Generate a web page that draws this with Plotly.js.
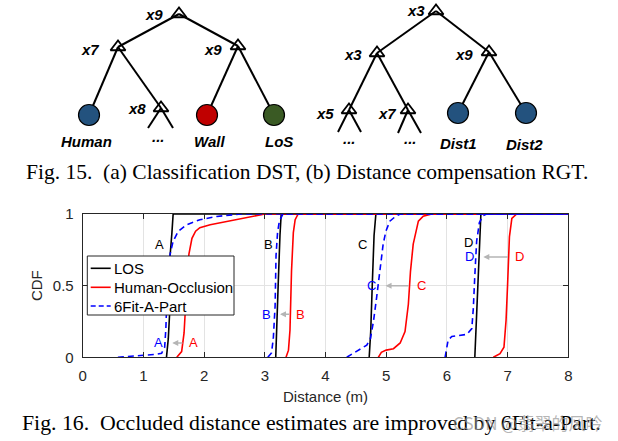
<!DOCTYPE html>
<html>
<head>
<meta charset="utf-8">
<script src="https://cdn.plot.ly/plotly-3.0.1.min.js"></script>
<style>html,body{margin:0;padding:0;background:#fff;}#chart{width:618px;height:441px;}</style>
</head>
<body>
<div id="chart"></div>
<script>
// ---------- CDF data (distance in m, CDF level) ----------
const losA_x = [1.38, 1.41, 1.43, 1.44, 1.47, 1.49];
const losA_y = [0, 0.13, 0.29, 0.71, 0.87, 1];
const losB_x = [3.18, 3.20, 3.22, 3.25, 3.27];
const losB_y = [0, 0.2, 0.5, 0.85, 1];
const losC_x = [4.72, 4.745, 4.77, 4.80, 4.83];
const losC_y = [0, 0.18, 0.5, 0.85, 1];
const losD_x = [6.46, 6.49, 6.51, 6.54, 6.56];
const losD_y = [0, 0.25, 0.5, 0.8, 1];

const humA_x = [1.55, 1.63, 1.67, 1.69, 1.72, 1.75, 1.80, 1.86, 1.93, 2.10, 2.37, 2.65, 2.90, 3.00];
const humA_y = [0, 0.04, 0.17, 0.35, 0.55, 0.72, 0.83, 0.88, 0.905, 0.925, 0.947, 0.97, 0.99, 1];
const humB_x = [3.35, 3.39, 3.415, 3.44, 3.47, 3.50, 3.55];
const humB_y = [0, 0.05, 0.19, 0.6, 0.87, 0.96, 1];
const humC_x = [4.87, 4.92, 5.00, 5.12, 5.23, 5.31, 5.365, 5.40, 5.445, 5.49, 5.53, 5.61, 5.75];
const humC_y = [0, 0.035, 0.05, 0.06, 0.1, 0.18, 0.37, 0.6, 0.79, 0.88, 0.95, 0.985, 1];
const humD_x = [6.765, 6.875, 6.94, 6.975, 7.00, 7.03, 7.07, 7.15];
const humD_y = [0, 0.025, 0.07, 0.26, 0.51, 0.84, 0.97, 1];

const fitA_x = [0.58, 0.8, 1.0, 1.2, 1.3, 1.35, 1.37, 1.39, 1.42, 1.44, 1.49, 1.575, 1.71, 1.93, 2.21, 2.6];
const fitA_y = [0, 0.005, 0.014, 0.02, 0.028, 0.07, 0.2, 0.45, 0.62, 0.72, 0.81, 0.88, 0.925, 0.96, 0.983, 1];
const fitB_x = [3.05, 3.11, 3.14, 3.17, 3.185, 3.21, 3.24, 3.30];
const fitB_y = [0, 0.03, 0.13, 0.36, 0.71, 0.87, 0.95, 1];
const fitC_x = [4.35, 4.51, 4.68, 4.74, 4.79, 4.84, 4.885, 4.92, 4.95, 4.995, 5.06, 5.145, 5.23];
const fitC_y = [0, 0.04, 0.085, 0.13, 0.25, 0.41, 0.55, 0.67, 0.79, 0.88, 0.95, 0.98, 1];
const fitD_x = [5.97, 6.02, 6.08, 6.16, 6.33, 6.41, 6.435, 6.46, 6.49, 6.535, 6.60, 6.655];
const fitD_y = [0, 0.12, 0.145, 0.15, 0.16, 0.2, 0.34, 0.57, 0.81, 0.94, 0.99, 1];

const seriesNames = ['LOS', 'Human-Occlusion', '6Fit-A-Part'];
const xTicks = [0, 1, 2, 3, 4, 5, 6, 7, 8];
const yTicks = [0, 0.5, 1];
const yTickText = ['0', '0.5', '1'];
const xMax = 8;

// case labels
const caseLetters = ['A', 'B', 'C', 'D'];
const labelLOS_x = [1.27, 3.06, 4.61, 6.35];
const labelLOS_y = [0.79, 0.79, 0.79, 0.80];
const labelFit_x = [1.245, 3.02, 4.75, 6.38];
const labelFit_y = [0.10, 0.30, 0.50, 0.70];
const labelHum_x = [1.82, 3.59, 5.585, 7.19];
const labelHum_y = [0.10, 0.30, 0.50, 0.70];
const arrowFrom_x = [1.67, 3.43, 5.39, 7.03];
const arrowTo_x = [1.475, 3.25, 4.99, 6.60];

// ---------- tree diagrams (pixel layout of the figure) ----------
const treeA_nodes = {
  root: [179, 14], L: [118, 47], R: [238, 46], x8: [161, 108],
  Human: [89, 115], Wall: [207, 115], LoS: [274, 115],
  x8a: [148, 128], x8b: [173, 128]
};
const treeA_edges = [['root','L'],['root','R'],['L','Human'],['L','x8'],['R','Wall'],['R','LoS'],['x8','x8a'],['x8','x8b']];
const treeB_nodes = {
  root: [436, 11], L: [377, 53], R: [489, 52], x5: [349, 110], x7: [408, 110],
  Dist1: [458, 113], Dist2: [526, 113],
  x5a: [338, 132], x5b: [361, 132], x7a: [398, 133], x7b: [421, 133]
};
const treeB_edges = [['root','L'],['root','R'],['L','x5'],['L','x7'],['R','Dist1'],['R','Dist2'],['x5','x5a'],['x5','x5b'],['x7','x7a'],['x7','x7b']];
const splitNodes = [treeA_nodes.root, treeA_nodes.L, treeA_nodes.R, treeA_nodes.x8,
                    treeB_nodes.root, treeB_nodes.L, treeB_nodes.R, treeB_nodes.x5, treeB_nodes.x7];
const leafNodes = [treeA_nodes.Human, treeA_nodes.Wall, treeA_nodes.LoS, treeB_nodes.Dist1, treeB_nodes.Dist2];
const leafColors = ['#23527e', '#c00000', '#3a5a24', '#23527e', '#23527e'];
const treeLabels = [
  ['x9', 154, 14], ['x7', 90, 49], ['x9', 213, 49], ['x8', 137, 108],
  ['Human', 86, 141], ['...', 158, 136], ['Wall', 209, 141], ['LoS', 279, 141],
  ['x3', 416, 10], ['x3', 353, 54], ['x9', 464, 54], ['x5', 325, 113], ['x7', 387, 113],
  ['...', 349, 138], ['...', 410, 138], ['Dist1', 458, 143], ['Dist2', 524, 144]
];

// ---------- build traces ----------
const traces = [];
const colors = ['#000000', '#ff0000', '#0000ff'];
const dashes = ['solid', 'solid', '6px,4px'];
const groups = [
  [[losA_x, losA_y], [losB_x, losB_y], [losC_x, losC_y], [losD_x, losD_y]],
  [[humA_x, humA_y], [humB_x, humB_y], [humC_x, humC_y], [humD_x, humD_y]],
  [[fitA_x, fitA_y], [fitB_x, fitB_y], [fitC_x, fitC_y], [fitD_x, fitD_y]]
];
groups.forEach((g, si) => {
  g.forEach((c, ci) => {
    traces.push({
      type: 'scatter', mode: 'lines', xaxis: 'x', yaxis: 'y',
      x: c[0].concat([xMax]), y: c[1].concat([1]),
      name: seriesNames[si], legendgroup: seriesNames[si], showlegend: false,
      line: {color: colors[si], width: 1.6, dash: dashes[si]},
      hoverinfo: 'skip'
    });
  });
});

function edgeXY(nodes, edges) {
  const ex = [], ey = [];
  edges.forEach(e => { ex.push(nodes[e[0]][0], nodes[e[1]][0], null); ey.push(nodes[e[0]][1], nodes[e[1]][1], null); });
  return [ex, ey];
}
[[treeA_nodes, treeA_edges], [treeB_nodes, treeB_edges]].forEach(t => {
  const e = edgeXY(t[0], t[1]);
  traces.push({type: 'scatter', mode: 'lines', xaxis: 'x2', yaxis: 'y2', x: e[0], y: e[1],
    line: {color: '#000', width: 2}, showlegend: false, hoverinfo: 'skip'});
});
traces.push({type: 'scatter', mode: 'markers', xaxis: 'x2', yaxis: 'y2',
  x: splitNodes.map(n => n[0]), y: splitNodes.map(n => n[1]),
  marker: {symbol: 'triangle-up-open', size: 13, color: '#000', line: {width: 1.8, color: '#000'}},
  showlegend: false, hoverinfo: 'skip'});
traces.push({type: 'scatter', mode: 'markers', xaxis: 'x2', yaxis: 'y2',
  x: leafNodes.map(n => n[0]), y: leafNodes.map(n => n[1]),
  marker: {symbol: 'circle', size: 21, color: leafColors, line: {width: 1.2, color: '#000'}},
  showlegend: false, hoverinfo: 'skip'});

// ---------- annotations ----------
const annotations = [];
const shapes = [];
const letterFont = {family: 'Liberation Sans, Arial, sans-serif', size: 13};
caseLetters.forEach((L, i) => {
  annotations.push({xref: 'x', yref: 'y', x: labelLOS_x[i], y: labelLOS_y[i], text: L, showarrow: false, font: Object.assign({color: '#000'}, letterFont)});
  annotations.push({xref: 'x', yref: 'y', x: labelFit_x[i], y: labelFit_y[i], text: L, showarrow: false, font: Object.assign({color: '#0000ff'}, letterFont)});
  annotations.push({xref: 'x', yref: 'y', x: labelHum_x[i], y: labelHum_y[i], text: L, showarrow: false, font: Object.assign({color: '#ff0000'}, letterFont)});
  annotations.push({xref: 'x', yref: 'y', axref: 'x', ayref: 'y', x: arrowTo_x[i], y: labelHum_y[i],
    ax: arrowFrom_x[i], ay: labelHum_y[i], text: '', showarrow: true,
    arrowcolor: '#b5b5b5', arrowwidth: 1.5, arrowhead: 2, arrowsize: 0.8, standoff: 0, startstandoff: 0});
});
treeLabels.forEach(t => {
  annotations.push({xref: 'x2', yref: 'y2', x: t[1], y: t[2], text: '<b><i>' + t[0] + '</i></b>', showarrow: false,
    font: {family: 'Liberation Sans, Arial, sans-serif', size: 15, color: '#000'}});
});

// legend box (MATLAB style, compact rows)
const W = 618, H = 441;
const px = v => v / W, py = v => 1 - v / H;
shapes.push({type: 'rect', xref: 'paper', yref: 'paper', x0: px(87.3), x1: px(234), y0: py(315), y1: py(256),
  fillcolor: '#fff', line: {color: '#262626', width: 1}, layer: 'above'});
const legendRowsY = [268.3, 287.3, 306];
seriesNames.forEach((n, i) => {
  shapes.push({type: 'line', xref: 'paper', yref: 'paper', x0: px(90.7), x1: px(110.7), y0: py(legendRowsY[i]), y1: py(legendRowsY[i]),
    line: {color: colors[i], width: 1.6, dash: i === 2 ? '5px,3px' : 'solid'}, layer: 'above'});
  annotations.push({xref: 'paper', yref: 'paper', x: px(112), y: py(legendRowsY[i]), xanchor: 'left', yanchor: 'middle',
    text: n, showarrow: false, font: {family: 'Liberation Sans, Arial, sans-serif', size: 15, color: '#000'}});
});

annotations.push({xref: 'paper', yref: 'paper', x: 307 / W, y: py(172), xanchor: 'center', yanchor: 'middle',
  text: 'Fig. 15.&nbsp;&nbsp;(a) Classification DST, (b) Distance compensation RGT.', showarrow: false,
  font: {family: 'Liberation Serif, Times New Roman, serif', size: 21.5, color: '#000'}});
annotations.push({xref: 'paper', yref: 'paper', x: 20 / W, y: py(423), xanchor: 'left', yanchor: 'middle',
  text: 'Fig. 16.&nbsp;&nbsp;Occluded distance estimates are improved by 6Fit-a-Part.', showarrow: false,
  font: {family: 'Liberation Serif, Times New Roman, serif', size: 21.8, color: '#000'}});
annotations.push({xref: 'paper', yref: 'paper', x: 604 / W, y: py(422), xanchor: 'right', yanchor: 'middle',
  text: 'CSDN @翡翠的风吟', showarrow: false,
  font: {family: 'Noto Sans CJK SC, sans-serif', size: 17, color: 'rgba(150,150,150,0.7)'}});

const axisFont = {family: 'Liberation Sans, Arial, sans-serif', size: 15, color: '#262626'};
const layout = {
  width: W, height: H,
  margin: {l: 0, r: 0, t: 0, b: 0},
  paper_bgcolor: '#fff', plot_bgcolor: 'rgba(0,0,0,0)',
  showlegend: false,
  xaxis: {domain: [82.7 / W, 568.3 / W], range: [0, 8], anchor: 'y',
    tickvals: xTicks, ticktext: xTicks.map(String), ticks: 'inside', ticklen: 5, tickcolor: '#262626',
    showline: true, linecolor: '#262626', linewidth: 1, mirror: 'ticks',
    showgrid: true, gridcolor: '#e3e3e3', gridwidth: 1, zeroline: false,
    tickfont: axisFont, ticklabelstandoff: 5,
    title: {text: 'Distance (m)', font: axisFont, standoff: 8}},
  yaxis: {domain: [1 - 357.3 / H, 1 - 214 / H], range: [0, 1], anchor: 'x',
    tickvals: yTicks, ticktext: yTickText, ticks: 'inside', ticklen: 5, tickcolor: '#262626',
    showline: true, linecolor: '#262626', linewidth: 1, mirror: 'ticks',
    showgrid: true, gridcolor: '#e3e3e3', gridwidth: 1, zeroline: false,
    tickfont: axisFont, ticklabelstandoff: 5,
    title: {text: 'CDF', font: axisFont, standoff: 6}},
  xaxis2: {domain: [0, 1], range: [0, W], anchor: 'y2', visible: false, fixedrange: true},
  yaxis2: {domain: [0, 1], range: [H, 0], anchor: 'x2', visible: false, fixedrange: true},
  shapes: shapes,
  annotations: annotations
};
Plotly.newPlot('chart', traces, layout, {staticPlot: true, displayModeBar: false});
</script>
</body>
</html>
